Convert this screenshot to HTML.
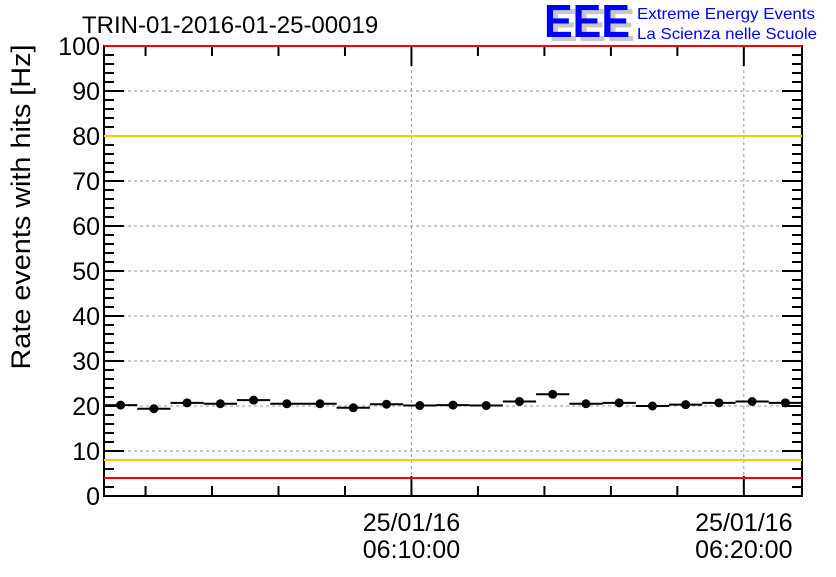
<!DOCTYPE html>
<html><head><meta charset="utf-8"><style>
body{margin:0;background:#fff;}
svg text{font-family:"Liberation Sans",sans-serif;}
</style></head><body>
<svg id="chart" width="836" height="572" viewBox="0 0 836 572">
<rect width="836" height="572" fill="#fff"/>
<text x="82" y="33" font-size="24" fill="#000">TRIN-01-2016-01-25-00019</text>
<g>
<text x="549" y="41" font-size="46" font-weight="bold" fill="#c8c8c8" textLength="86" lengthAdjust="spacingAndGlyphs">EEE</text>
<text x="544" y="37" font-size="46" font-weight="bold" fill="#0000ff" textLength="86" lengthAdjust="spacingAndGlyphs">EEE</text>
<text x="637" y="19" font-size="16" fill="#0000ff" textLength="178" lengthAdjust="spacingAndGlyphs">Extreme Energy Events</text>
<text x="637" y="39" font-size="16" fill="#0000ff" textLength="180" lengthAdjust="spacingAndGlyphs">La Scienza nelle Scuole</text>
</g>
<g id="grid"></g><g id="axes"></g><g id="lines"></g><g id="marks"></g>
<text transform="translate(30,207) rotate(-90)" text-anchor="middle" font-size="27" textLength="325" lengthAdjust="spacingAndGlyphs">Rate events with hits [Hz]</text>
</svg>
<script>
const binStartMin = 0.75; // 06:00:45
const binWidthMin = 1;
const values = [20.2,19.4,20.7,20.5,21.3,20.5,20.5,19.6,20.4,20.1,20.2,20.1,21.0,22.6,20.5,20.7,20.0,20.3,20.7,21.0,20.7];
const yTicks = [0,10,20,30,40,50,60,70,80,90,100];
const xMajorMin = [10,20];
const xMajorLabels = [["25/01/16","06:10:00"],["25/01/16","06:20:00"]];
const redLimits = [4,100];
const yellowLimits = [8,80];

const L=104,R=802,T=46,B=496;
const xMin=binStartMin, xMax=binStartMin+values.length*binWidthMin;
const X=m=>L+(m-xMin)/(xMax-xMin)*(R-L);
const Y=v=>B-v/100*(B-T);
const NS="http://www.w3.org/2000/svg";
function mk(parent,tag,attrs){const e=document.createElementNS(NS,tag);for(const k in attrs)e.setAttribute(k,attrs[k]);document.getElementById(parent).appendChild(e);return e;}

yTicks.forEach(v=>{if(v>0&&v<100){const e=mk('grid','line',{x1:L,x2:R,y1:Y(v),y2:Y(v),stroke:'#999','stroke-dasharray':'3,3','stroke-width':1});

}});
xMajorMin.forEach(m=>{const e=mk('grid','line',{x1:X(m),x2:X(m),y1:T,y2:B,stroke:'#999','stroke-dasharray':'3,3','stroke-width':1});

});

const f=mk('axes','rect',{x:L,y:T,width:R-L,height:B-T,fill:'none',stroke:'#000','stroke-width':2});


for(let v=0;v<=100;v+=2){const maj=v%10===0,len=maj?20:10;
 mk('axes','line',{x1:L,x2:L+len,y1:Y(v),y2:Y(v),stroke:'#000','stroke-width':2});
 mk('axes','line',{x1:R,x2:R-len,y1:Y(v),y2:Y(v),stroke:'#000','stroke-width':2});}
yTicks.forEach(v=>{const t=mk('axes','text',{x:L-4,y:Y(v)+9,'text-anchor':'end','font-size':25});t.textContent=v;

});
for(let m=2;m<xMax;m+=2){if(m<xMin)continue;const maj=m%10===0,len=maj?20:10;
 mk('axes','line',{x1:X(m),x2:X(m),y1:B,y2:B-len,stroke:'#000','stroke-width':2});
 mk('axes','line',{x1:X(m),x2:X(m),y1:T,y2:T+len,stroke:'#000','stroke-width':2});}
xMajorMin.forEach((m,i)=>{
 const t1=mk('axes','text',{x:X(m),y:531,'text-anchor':'middle','font-size':25});t1.textContent=xMajorLabels[i][0];
 
 
 const t2=mk('axes','text',{x:X(m),y:558,'text-anchor':'middle','font-size':25});t2.textContent=xMajorLabels[i][1];
 
 
});

redLimits.forEach(v=>{const e=mk('lines','line',{x1:L,x2:R,y1:Y(v),y2:Y(v),stroke:'#ff0000','stroke-width':2});

});
yellowLimits.forEach(v=>{const e=mk('lines','line',{x1:L,x2:R,y1:Y(v),y2:Y(v),stroke:'#ffcc00','stroke-width':2});

});

values.forEach((v,i)=>{
 const a=xMin+i*binWidthMin,b=a+binWidthMin,c=(a+b)/2;
 const h=mk('marks','line',{x1:X(a),x2:X(b),y1:Y(v),y2:Y(v),stroke:'#000','stroke-width':2});
 
 
 const p=mk('marks','circle',{cx:X(c),cy:Y(v),r:4.5,fill:'#000'});
 
 
});
</script>
</body></html>
